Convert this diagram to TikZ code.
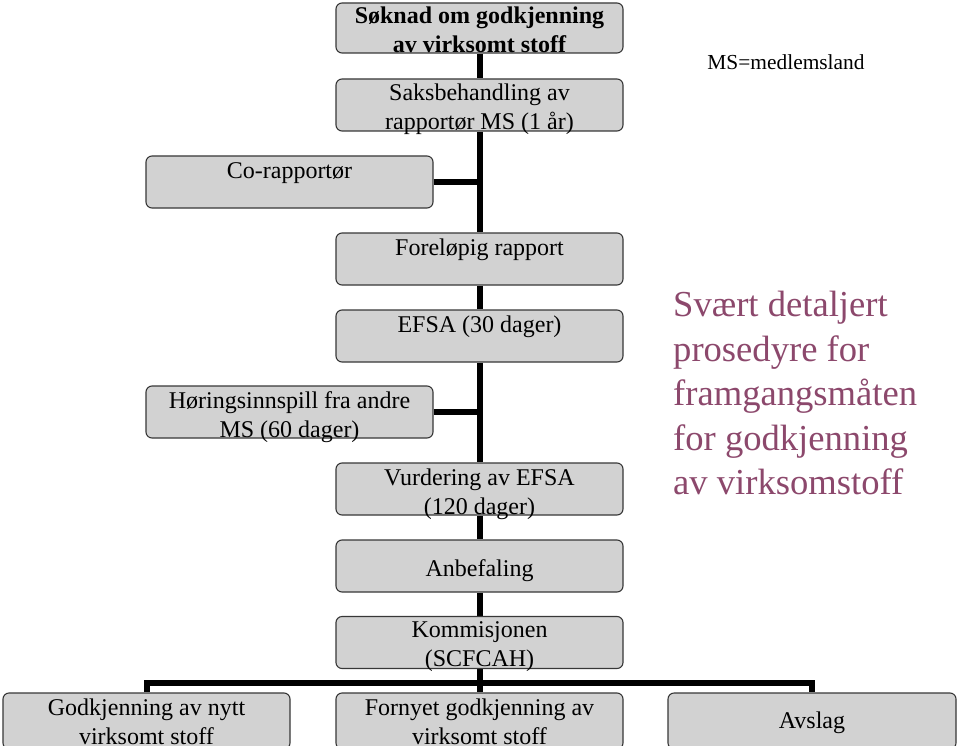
\documentclass[tikz,border=0pt]{standalone}
\usepackage{fontspec}
\setmainfont{Liberation Serif}
\usetikzlibrary{backgrounds}
\definecolor{boxfill}{RGB}{210,210,210}
\definecolor{boxline}{RGB}{55,55,55}
\definecolor{plum}{RGB}{140,72,108}
\newcommand\lowtxt[2][4pt]{\smash{\raisebox{-#1}{#2}}}
\newcommand\firstln{\rule{0pt}{18pt}}
\newcommand\lastln{\rule[-5pt]{0pt}{5pt}}
\begin{document}
\begin{tikzpicture}[x=1pt,y=-1pt,
  stepbox/.style={draw=boxline, line width=1.1pt, fill=boxfill, rounded corners=6pt,
    minimum width=287pt, minimum height=52pt, inner sep=0pt, align=center,
    font=\fontsize{24}{29}\selectfont},
  link/.style={line width=6pt, black}]
\clip (0,0) rectangle (960,746);

\node[stepbox, minimum height=50pt, font=\fontsize{24}{29}\selectfont\bfseries] (s1) at (479.5,28) {\rule{0pt}{17.5pt}\lowtxt[3pt]{Søknad om godkjenning}\\\lowtxt[3pt]{av virksomt stoff}\rule[-3.5pt]{0pt}{3.5pt}};
\node[stepbox] (s2) at (479.5,105) {\firstln\lowtxt{Saksbehandling av}\\\lowtxt{rapportør MS (1 år)}\lastln};
\node[stepbox] (co) at (289.5,182) {\firstln\lowtxt[4.5pt]{Co-rapportør}\\\lastln};
\node[stepbox] (fr) at (479.5,259) {\firstln\lowtxt{Foreløpig rapport}\\\lastln};
\node[stepbox] (efsa) at (479.5,336) {\firstln\lowtxt{EFSA (30 dager)}\\\lastln};
\node[stepbox] (hor) at (289.5,412) {\firstln\lowtxt{Høringsinnspill fra andre}\\\lowtxt{MS (60 dager)}\lastln};
\node[stepbox] (vur) at (479.5,489) {\firstln\lowtxt{Vurdering av EFSA}\\\lowtxt{(120 dager)}\lastln};
\node[stepbox] (anb) at (479.5,566) {\firstln\lowtxt{Anbefaling}\rule[-5.2pt]{0pt}{5.2pt}};
\node[stepbox] (kom) at (479.5,642.5) {\firstln\lowtxt[3pt]{Kommisjonen}\\\lowtxt[3pt]{(SCFCAH)}\lastln};
\node[stepbox, minimum height=56pt] (b1) at (146.5,721) {\rule{0pt}{17pt}\lowtxt[3.5pt]{Godkjenning av nytt}\\\lowtxt[3.5pt]{virksomt stoff}\rule[-7pt]{0pt}{7pt}};
\node[stepbox, minimum height=56pt] (b2) at (479.5,721) {\rule{0pt}{17pt}\lowtxt[3.5pt]{Fornyet godkjenning av}\\\lowtxt[3.5pt]{virksomt stoff}\rule[-7pt]{0pt}{7pt}};
\node[stepbox, minimum height=56pt, minimum width=288pt] (b3) at (812,721) {\rule{0pt}{16.4pt}\lowtxt[3pt]{Avslag}\rule[-7.5pt]{0pt}{7.5pt}};

\node[anchor=center, font=\fontsize{21.4}{25}\selectfont] (ms) at (786,62) {MS=medlemsland};
\node[anchor=north west, inner sep=0pt, align=left, text=plum, font=\fontsize{36.6}{44.5}\selectfont] (note) at (673,291) {Svært detaljert\\prosedyre for\\framgangsmåten\\for godkjenning\\av virksomstoff};

\begin{scope}[on background layer]
\draw[link] (s1.south) -- (s2.north);
\draw[link] (s2.south) -- (fr.north);
\draw[link] (co.east) -- (co.east -| s2.south);
\draw[link] (fr.south) -- (efsa.north);
\draw[link] (efsa.south) -- (vur.north);
\draw[link] (hor.east) -- (hor.east -| efsa.south);
\draw[link] (vur.south) -- (anb.north);
\draw[link] (anb.south) -- (kom.north);
\coordinate (bus) at (479.5,683);
\draw[link] (kom.south) -- (b2.north);
\draw[link] (b1.north) -- (b1.north |- bus) -- (b3.north |- bus) -- (b3.north);
\end{scope}
\end{tikzpicture}
\end{document}
